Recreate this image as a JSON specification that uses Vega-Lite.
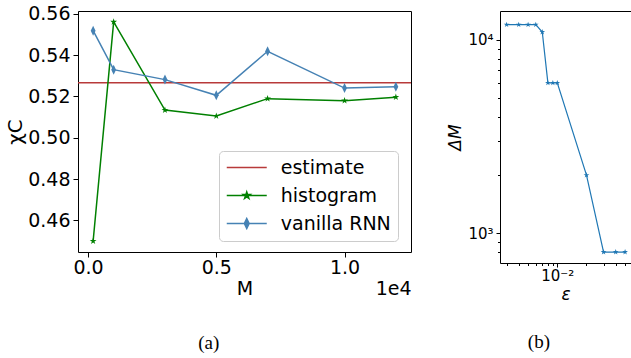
{
  "$schema": "https://vega.github.io/schema/vega-lite/v6.json",
  "background": "white",
  "padding": {"left": 5, "top": 4, "right": 0, "bottom": 0},
  "bounds": "flush",
  "spacing": 89,
  "config": {
    "view": {"stroke": "#000000", "strokeWidth": 1},
    "axis": {"domain": false, "grid": false, "tickColor": "#000000", "tickWidth": 1, "labelColor": "#000000", "titleColor": "#000000", "labelFont": "DejaVu Sans", "titleFont": "DejaVu Sans", "titleFontWeight": "normal"},
    "title": {"font": "Liberation Serif", "fontSize": 19, "fontWeight": "normal", "color": "#000000"}
  },
  "hconcat": [
    {
      "width": 333,
      "height": 241,
      "title": {"text": "(a)", "orient": "bottom", "anchor": "middle", "frame": "bounds", "offset": 36},
      "data": {"values": [
        {"series": "estimate", "M": null, "chi": 0.5266},
        {"series": "histogram", "M": 200, "chi": 0.450},
        {"series": "histogram", "M": 1000, "chi": 0.556},
        {"series": "histogram", "M": 3000, "chi": 0.5134},
        {"series": "histogram", "M": 5000, "chi": 0.5105},
        {"series": "histogram", "M": 7000, "chi": 0.5189},
        {"series": "histogram", "M": 10000, "chi": 0.5179},
        {"series": "histogram", "M": 12000, "chi": 0.5196},
        {"series": "vanilla RNN", "M": 200, "chi": 0.5518},
        {"series": "vanilla RNN", "M": 1000, "chi": 0.5329},
        {"series": "vanilla RNN", "M": 3000, "chi": 0.5281},
        {"series": "vanilla RNN", "M": 5000, "chi": 0.5205},
        {"series": "vanilla RNN", "M": 7000, "chi": 0.5418},
        {"series": "vanilla RNN", "M": 10000, "chi": 0.5240},
        {"series": "vanilla RNN", "M": 12000, "chi": 0.5247}
      ]},
      "layer": [
        {
          "transform": [{"filter": "datum.series === 'estimate'"}],
          "mark": {"type": "rule", "strokeWidth": 1.5},
          "encoding": {
            "y": {"field": "chi", "type": "quantitative", "scale": {"domain": [0.4447, 0.5613], "nice": false, "zero": false},
              "axis": {"values": [0.46, 0.48, 0.50, 0.52, 0.54, 0.56], "format": ".2f", "labelFontSize": 19, "tickSize": 5, "labelPadding": 3, "title": "χC", "titleFontSize": 20, "titlePadding": 2}},
            "color": {"field": "series", "type": "nominal",
              "scale": {"domain": ["estimate", "histogram", "vanilla RNN"], "range": ["#b83a3a", "#008000", "#4682b4"]},
              "legend": {"title": null, "orient": "none", "legendX": 141, "legendY": 140, "padding": 7, "rowPadding": 8, "symbolSize": 64, "symbolOffset": 11.25, "labelOffset": 24.5, "labelFontSize": 19, "labelFont": "DejaVu Sans", "labelColor": "#000000", "strokeColor": "#cccccc", "fillColor": "rgba(255,255,255,0.8)", "cornerRadius": 4,
                "encode": {"symbols": {"update": {
                  "shape": {"signal": "datum.value === 'estimate' ? 'M-5,0L5,0' : datum.value === 'histogram' ? 'M-5,0L5,0M0,-0.9L0.202,-0.278L0.856,-0.278L0.327,0.106L0.529,0.728L0,0.344L-0.529,0.728L-0.327,0.106L-0.856,-0.278L-0.202,-0.278Z' : 'M-5,0L5,0M0,-1.25L0.6,0L0,1.25L-0.6,0Z'"},
                  "fill": {"signal": "datum.value === 'estimate' ? '#b83a3a' : datum.value === 'histogram' ? '#008000' : '#4682b4'"},
                  "stroke": {"signal": "datum.value === 'estimate' ? '#b83a3a' : datum.value === 'histogram' ? '#008000' : '#4682b4'"},
                  "strokeWidth": {"value": 1.5},
                  "opacity": {"value": 1}
                }}}}}
          }
        },
        {
          "transform": [{"filter": "datum.series !== 'estimate'"}],
          "mark": {"type": "line", "strokeWidth": 1.5},
          "encoding": {
            "x": {"field": "M", "type": "quantitative", "scale": {"domain": [-390, 12590], "nice": false, "zero": false},
              "axis": {"orient": "bottom", "values": [0, 5000, 10000], "labelExpr": "format(datum.value / 10000, '.1f')", "labelFontSize": 19, "tickSize": 5, "labelPadding": 1, "title": "M", "titleFontSize": 19, "titlePadding": 2}},
            "y": {"field": "chi", "type": "quantitative"},
            "color": {"field": "series", "type": "nominal"}
          }
        },
        {
          "transform": [{"filter": "datum.series !== 'estimate'"}],
          "mark": {"type": "point", "filled": true, "opacity": 1, "size": 64},
          "encoding": {
            "x": {"field": "M", "type": "quantitative",
              "axis": {"orient": "bottom", "labels": false, "ticks": false, "title": "1e4", "titleAnchor": "end", "titleFontSize": 19, "titlePadding": 27}},
            "y": {"field": "chi", "type": "quantitative"},
            "color": {"field": "series", "type": "nominal"},
            "shape": {"field": "series", "type": "nominal",
              "scale": {"domain": ["histogram", "vanilla RNN"], "range": ["M0,-0.9L0.202,-0.278L0.856,-0.278L0.327,0.106L0.529,0.728L0,0.344L-0.529,0.728L-0.327,0.106L-0.856,-0.278L-0.202,-0.278Z", "M0,-1.25L0.6,0L0,1.25L-0.6,0Z"]},
              "legend": null}
          }
        }
      ],
      "resolve": {"axis": {"x": "independent"}}
    },
    {
      "width": 131,
      "height": 252,
      "title": {"text": "(b)", "orient": "bottom", "anchor": "middle", "frame": "bounds", "offset": 31},
      "data": {"values": [
        {"eps": 0.003, "dM": 12000},
        {"eps": 0.004, "dM": 12000},
        {"eps": 0.005, "dM": 12000},
        {"eps": 0.006, "dM": 12000},
        {"eps": 0.007, "dM": 11000},
        {"eps": 0.008, "dM": 6000},
        {"eps": 0.009, "dM": 6000},
        {"eps": 0.01, "dM": 6000},
        {"eps": 0.02, "dM": 2000},
        {"eps": 0.03, "dM": 800},
        {"eps": 0.04, "dM": 800},
        {"eps": 0.05, "dM": 800}
      ]},
      "layer": [
        {
          "mark": {"type": "line", "color": "#1f77b4", "strokeWidth": 1.2},
          "encoding": {
            "x": {"field": "eps", "type": "quantitative", "scale": {"type": "log", "domain": [0.002566, 0.05754], "nice": false},
              "axis": {"orient": "bottom", "values": [0.01], "labelExpr": "'10⁻²'", "labelFontSize": 15, "tickSize": 4, "labelPadding": 1, "title": "ε", "titleFontSize": 17, "titleFontStyle": "italic", "titlePadding": 3}},
            "y": {"field": "dM", "type": "quantitative", "scale": {"type": "log", "domain": [702, 14125], "nice": false},
              "axis": {"orient": "left", "values": [1000, 10000], "labelExpr": "datum.value > 5000 ? '10⁴' : '10³'", "labelFontSize": 15, "tickSize": 4, "labelPadding": 3, "title": "ΔM", "titleFontSize": 17, "titleFontStyle": "italic", "titlePadding": 3}}
          }
        },
        {
          "mark": {"type": "point", "shape": "M0,-1L0.2245,-0.309L0.9511,-0.309L0.3633,0.118L0.5878,0.809L0,0.382L-0.5878,0.809L-0.3633,0.118L-0.9511,-0.309L-0.2245,-0.309Z", "filled": true, "color": "#1f77b4", "size": 36, "opacity": 1},
          "encoding": {
            "x": {"field": "eps", "type": "quantitative",
              "axis": {"orient": "bottom", "values": [0.003, 0.004, 0.005, 0.006, 0.007, 0.008, 0.009, 0.02, 0.03, 0.04, 0.05], "labels": false, "tickSize": 2.5, "title": null}},
            "y": {"field": "dM", "type": "quantitative",
              "axis": {"orient": "left", "values": [800, 900, 2000, 3000, 4000, 5000, 6000, 7000, 8000, 9000], "labels": false, "tickSize": 2.5, "title": null}}
          }
        }
      ],
      "resolve": {"axis": {"x": "independent", "y": "independent"}}
    }
  ]
}
